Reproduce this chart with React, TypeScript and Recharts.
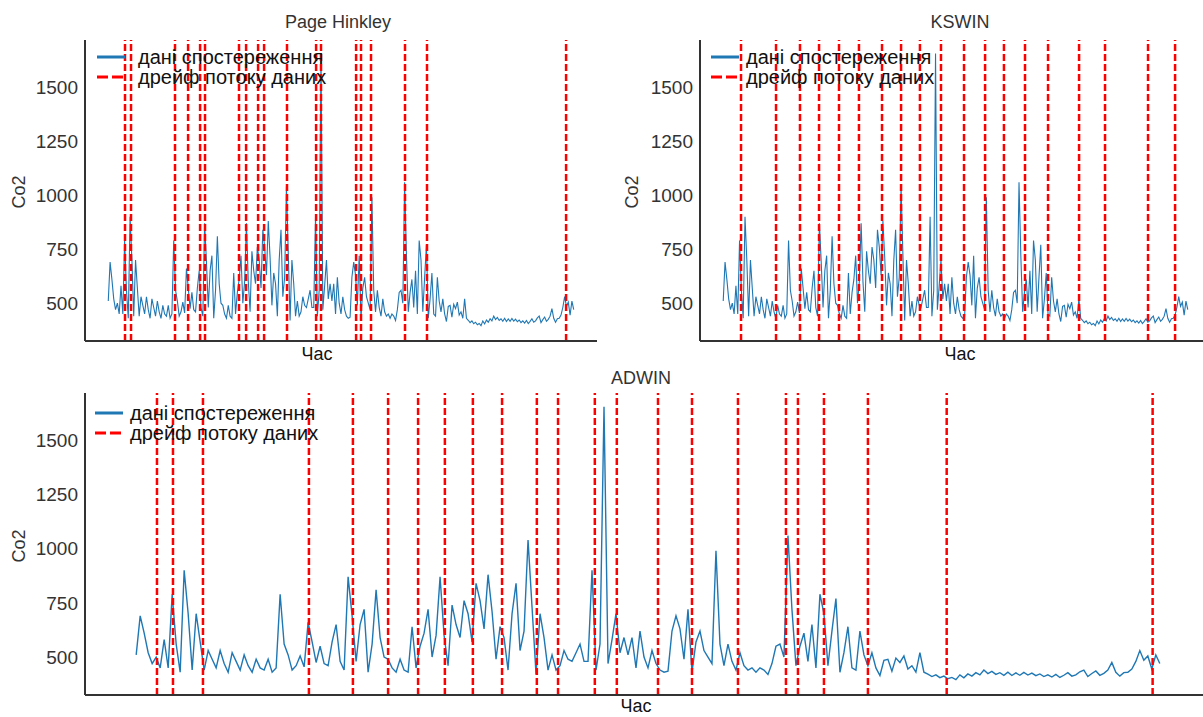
import { LineChart, Line, XAxis, YAxis, ReferenceLine, Legend } from 'recharts';

// CO2 readings, one per hour step
const co2 = [
  510, 690, 610, 520, 470, 500, 450, 580, 450, 790, 560, 430, 900, 700, 440, 700,
  570, 440, 530, 490, 450, 530, 470, 430, 520, 480, 440, 510, 460, 430, 490, 450,
  440, 490, 430, 450, 790, 560, 510, 440, 460, 505, 455, 660, 570, 475, 550, 470,
  460, 570, 650, 480, 440, 870, 690, 480, 650, 720, 430, 560, 810, 590, 500, 490,
  450, 430, 490, 440, 430, 640, 450, 550, 610, 720, 500, 600, 870, 600, 460, 740,
  650, 590, 760, 700, 570, 840, 760, 630, 880, 710, 490, 640, 590, 440, 700, 840,
  530, 620, 1040, 730, 420, 700, 590, 440, 510, 440, 460, 530, 490, 480, 520, 560,
  480, 480, 900, 440, 560, 1655, 470, 580, 700, 520, 590, 510, 590, 450, 620, 500,
  450, 530, 470, 440, 430, 435, 620, 690, 630, 490, 720, 430, 570, 620, 530, 500,
  470, 990, 560, 460, 560, 480, 440, 520, 460, 440, 450, 430, 450, 440, 420, 470,
  550, 560, 500, 1060, 720, 460, 550, 610, 480, 650, 450, 790, 700, 460, 620, 770,
  430, 520, 640, 450, 440, 620, 510, 460, 520, 450, 415, 485, 490, 435, 495, 475,
  505, 445, 460, 430, 520, 430, 421, 410, 418, 405, 412, 400, 406, 396, 418, 404,
  422, 412, 428, 418, 440, 424, 434, 420, 428, 416, 430, 415, 427, 416, 429, 417,
  426, 414, 422, 410, 418, 408, 420, 406, 416, 428, 412, 418, 432, 440, 410, 424,
  436, 416, 425, 440, 475, 430, 412, 428, 430, 445, 480, 530, 485, 505, 445, 510,
  470,
];

// drift points found by each detector (hour index)
const pageHinkleyDrifts = [9.2, 12.5, 36.7, 43.9, 50.5, 53.2, 71.9, 75.8, 82.4, 85.7, 98.3, 114.3, 117, 136.3, 139, 144.5, 163.2, 175.3, 251.8];
const kswinDrifts = [9.8, 29.1, 42.3, 52.8, 63.8, 74.8, 87.5, 98, 108.4, 120, 132.7, 144.3, 154.7, 166.3, 179, 196.1, 210.4, 234.1, 249];
const adwinDrifts = [5.2, 9.2, 16.7, 43.2, 54.2, 63, 70.5, 77.2, 84.2, 91.5, 100.2, 105.5, 114.7, 120.2, 130.5, 139, 150.5, 162.5, 165.5, 172, 183, 202.7, 254.2];

const yTicks = [500, 750, 1000, 1250, 1500];
const legendLabels = ['дані спостереження', 'дрейф потоку даних'];

const FONT = '"Liberation Sans", Arial, sans-serif';
const BLUE = '#1f77b4';
const RED = '#ff0000';
const AXIS = '#333333';

const data = co2.map((v, i) => ({ hour: i, co2: v }));
const last = co2.length - 1;
const xDomain = [-0.05 * last, 1.05 * last];

function DriftLegend({ gap }: { gap: number }) {
  const row = { display: 'flex', alignItems: 'center', height: 20 } as const;
  return (
    <div style={{ fontFamily: FONT, fontSize: 20, color: '#111', lineHeight: '20px' }}>
      <div style={row}>
        <svg width={28} height={20} style={{ display: 'block' }}>
          <line x1={0} y1={10} x2={28} y2={10} stroke={BLUE} strokeWidth={3} />
        </svg>
        <span style={{ marginLeft: gap, whiteSpace: 'nowrap' }}>{legendLabels[0]}</span>
      </div>
      <div style={row}>
        <svg width={28} height={20} style={{ display: 'block' }}>
          <line x1={0} y1={10} x2={28} y2={10} stroke={RED} strokeWidth={3} strokeDasharray="11 4" />
        </svg>
        <span style={{ marginLeft: gap, whiteSpace: 'nowrap' }}>{legendLabels[1]}</span>
      </div>
    </div>
  );
}

interface PanelProps {
  drifts: number[];
  left: number;
  top: number;
  width: number;
  height: number;
  margin: { top: number; right: number; bottom: number; left: number };
  yAxisWidth: number;
  lineWidth: number;
  legendTop: number;
  legendLeft: number;
  legendGap: number;
}

function DriftPanel(p: PanelProps) {
  return (
    <div style={{ position: 'absolute', left: p.left, top: p.top, width: p.width, height: p.height }}>
      <LineChart width={p.width} height={p.height} data={data} margin={p.margin}>
        <XAxis
          dataKey="hour"
          type="number"
          domain={xDomain}
          allowDataOverflow
          tick={false}
          tickLine={false}
          height={2}
          axisLine={{ stroke: AXIS, strokeWidth: 2 }}
        />
        <YAxis
          domain={[325, 1718]}
          allowDataOverflow
          ticks={yTicks}
          width={p.yAxisWidth}
          tickLine={false}
          tickSize={0}
          tickMargin={7}
          axisLine={{ stroke: AXIS, strokeWidth: 2 }}
          tick={{ fontSize: 19, fill: '#333', fontFamily: FONT }}
        />
        <Line type="linear" dataKey="co2" stroke={BLUE} strokeWidth={p.lineWidth} dot={false} isAnimationActive={false} />
        {p.drifts.map((d) => (
          <ReferenceLine key={d} x={d} stroke={RED} strokeWidth={2.5} strokeDasharray="7 3" />
        ))}
        <Legend
          layout="horizontal"
          verticalAlign="middle"
          align="center"
          wrapperStyle={{ top: p.legendTop, left: p.legendLeft, width: 'auto' }}
          content={() => <DriftLegend gap={p.legendGap} />}
        />
      </LineChart>
    </div>
  );
}

function Txt({ x, y, text, size = 18, rotate = false, color = '#333' }: { x: number; y: number; text: string; size?: number; rotate?: boolean; color?: string }) {
  return (
    <div
      style={{
        position: 'absolute',
        left: x,
        top: y,
        transform: `translate(-50%, -50%)${rotate ? ' rotate(-90deg)' : ''}`,
        fontFamily: FONT,
        fontSize: size,
        color,
        whiteSpace: 'nowrap',
        lineHeight: 1,
      }}
    >
      {text}
    </div>
  );
}

export default function App() {
  return (
    <div style={{ position: 'absolute', left: 0, top: 0, width: 1203, height: 717, background: '#fff', overflow: 'hidden' }}>
      <DriftPanel
        drifts={pageHinkleyDrifts}
        left={0}
        top={0}
        width={600}
        height={360}
        margin={{ top: 40, right: 3, bottom: 17, left: 0 }}
        yAxisWidth={85}
        lineWidth={1.1}
        legendTop={47}
        legendLeft={97}
        legendGap={13}
      />
      <DriftPanel
        drifts={kswinDrifts}
        left={600}
        top={0}
        width={603}
        height={360}
        margin={{ top: 40, right: -8, bottom: 17, left: 0 }}
        yAxisWidth={100}
        lineWidth={1.1}
        legendTop={47}
        legendLeft={111}
        legendGap={7}
      />
      <DriftPanel
        drifts={adwinDrifts}
        left={0}
        top={360}
        width={1203}
        height={357}
        margin={{ top: 33, right: -8, bottom: 20, left: 0 }}
        yAxisWidth={85}
        lineWidth={1.4}
        legendTop={43}
        legendLeft={95}
        legendGap={7}
      />
      <Txt x={338} y={22} text="Page Hinkley" />
      <Txt x={960} y={22} text="KSWIN" />
      <Txt x={641} y={378} text="ADWIN" />
      <Txt x={19} y={192} text="Co2" rotate />
      <Txt x={632} y={192} text="Co2" rotate />
      <Txt x={19} y={546} text="Co2" rotate />
      <Txt x={317} y={354} text="Час" color="#111" />
      <Txt x={960} y={354} text="Час" color="#111" />
      <Txt x={636} y={706} text="Час" color="#111" />
    </div>
  );
}
